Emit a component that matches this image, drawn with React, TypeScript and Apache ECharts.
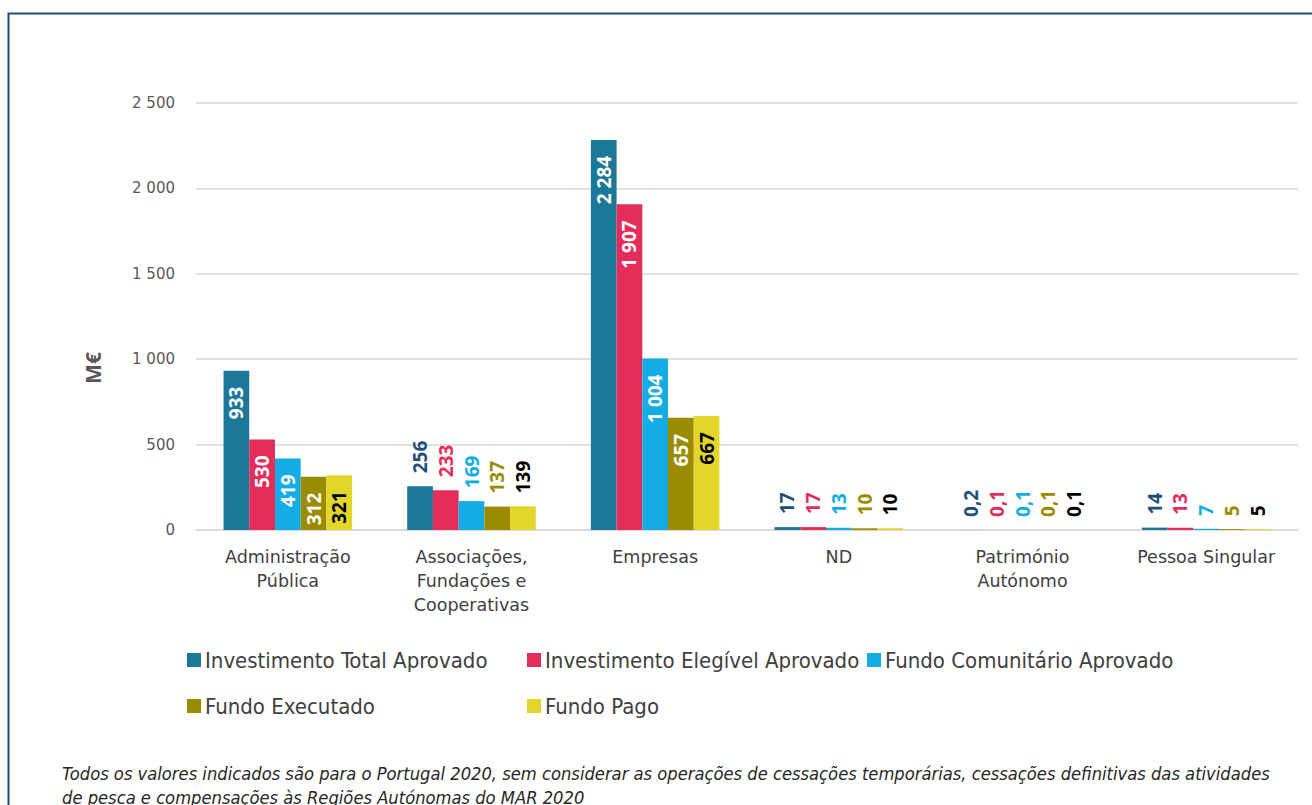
import React, { useEffect, useRef } from "react";
import * as echarts from "echarts";

const categories = [
  "Administração\nPública",
  "Associações,\nFundações e\nCooperativas",
  "Empresas",
  "ND",
  "Património\nAutónomo",
  "Pessoa Singular",
];

const seriesNames = [
  "Investimento Total Aprovado",
  "Investimento Elegível Aprovado",
  "Fundo Comunitário Aprovado",
  "Fundo Executado",
  "Fundo Pago",
];

const investimentoTotal = [933, 256, 2284, 17, 0.2, 14];
const investimentoElegivel = [530, 233, 1907, 17, 0.1, 13];
const fundoComunitario = [419, 169, 1004, 13, 0.1, 7];
const fundoExecutado = [312, 137, 657, 10, 0.1, 5];
const fundoPago = [321, 139, 667, 10, 0.1, 5];

const seriesValues = [investimentoTotal, investimentoElegivel, fundoComunitario, fundoExecutado, fundoPago];

const barColors = ["#1B7898", "#E32D5B", "#14ADE3", "#9A8B00", "#E2D62A"];
const outsideLabelColors = ["#1F4E79", "#E32D5B", "#14ADE3", "#9A8B00", "#000000"];
const insideLabelColors = ["#FFFFFF", "#FFFFFF", "#FFFFFF", "#FFFFFF", "#000000"];

const yTicks = [0, 500, 1000, 1500, 2000, 2500];

const footnote =
  "Todos os valores indicados são para o Portugal 2020, sem considerar as operações de cessações temporárias, cessações definitivas das atividades\nde pesca e compensações às Regiões Autónomas do MAR 2020";

function fmt(v: number): string {
  if (v < 1) return String(v).replace(".", ",");
  return String(Math.round(v)).replace(/\B(?=(\d{3})+(?!\d))/g, " ");
}

const legendPos = [
  { left: 187, top: 649 },
  { left: 527, top: 649 },
  { left: 867, top: 649 },
  { left: 187, top: 695 },
  { left: 527, top: 695 },
];

export default function App() {
  const ref = useRef<HTMLDivElement>(null);
  useEffect(() => {
    if (!ref.current) return;
    const chart = echarts.init(ref.current, undefined, { renderer: "svg" });
    const labelFont = "'Open Sans', 'DejaVu Sans', sans-serif";
    const series = seriesNames.map((name, i) => ({
      name,
      type: "bar",
      barGap: "0%",
      barCategoryGap: "30%",
      itemStyle: { color: barColors[i] },
      data: seriesValues[i].map((v) => ({
        value: v,
        label:
          v > 300
            ? {
                show: true,
                position: "insideTop",
                distance: 16,
                rotate: 90,
                align: "right",
                verticalAlign: "middle",
                color: insideLabelColors[i],
                fontFamily: labelFont,
                fontWeight: "bold",
                fontSize: 19,
                formatter: (p: any) => fmt(p.value),
              }
            : {
                show: true,
                position: "top",
                distance: 13,
                rotate: 90,
                align: "left",
                verticalAlign: "middle",
                color: outsideLabelColors[i],
                fontFamily: labelFont,
                fontWeight: "bold",
                fontSize: 19,
                formatter: (p: any) => fmt(p.value),
              },
      })),
    }));
    const legends = seriesNames.map((name, i) => ({
      data: [name],
      left: legendPos[i].left,
      top: legendPos[i].top,
      padding: 0,
      icon: "rect",
      itemWidth: 14,
      itemHeight: 14,
      selectedMode: false,
      textStyle: {
        fontFamily: "'DejaVu Sans Condensed', 'DejaVu Sans', sans-serif",
        fontSize: 22,
        lineHeight: 22,
        color: "#404040",
        padding: [0, 0, 0, -1],
      },
    }));
    chart.setOption({
      animation: false,
      backgroundColor: "#FFFFFF",
      grid: { left: 196, right: 14, top: 103, bottom: 275, containLabel: false },
      legend: legends,
      xAxis: {
        type: "category",
        data: categories,
        axisLine: { show: true, lineStyle: { color: "#D9D9D9", width: 1.5 } },
        axisTick: { show: false },
        axisLabel: {
          interval: 0,
          margin: 15,
          color: "#404040",
          fontSize: 17.5,
          lineHeight: 24,
          fontFamily: "'DejaVu Sans', sans-serif",
        },
      },
      yAxis: {
        type: "value",
        min: yTicks[0],
        max: yTicks[yTicks.length - 1],
        interval: 500,
        axisLine: { show: false },
        axisTick: { show: false },
        splitLine: { lineStyle: { color: "#D9D9D9", width: 1.5 } },
        axisLabel: {
          margin: 21,
          color: "#595959",
          fontSize: 15,
          fontFamily: "'DejaVu Sans', sans-serif",
          formatter: (v: number) => fmt(v),
        },
      },
      graphic: [
        {
          type: "rect",
          shape: { x: 8.5, y: 13.5, width: 1330, height: 830 },
          style: { fill: "none", stroke: "#1F4E79", lineWidth: 2 },
          silent: true,
        },
        {
          type: "text",
          x: 93,
          y: 368,
          rotation: Math.PI / 2,
          style: {
            text: "M€",
            fontFamily: "'Open Sans', 'DejaVu Sans', sans-serif",
            fontWeight: "bold",
            fontSize: 21,
            fill: "#595959",
            align: "center",
            verticalAlign: "middle",
          },
        },
        {
          type: "text",
          x: 62,
          y: 761,
          style: {
            text: footnote,
            fontFamily: "'DejaVu Sans Condensed', 'DejaVu Sans', sans-serif",
            fontStyle: "italic",
            fontSize: 18.2,
            lineHeight: 24,
            fill: "#262626",
            align: "left",
            verticalAlign: "top",
          },
        },
      ],
      series,
    });
    return () => chart.dispose();
  }, []);
  return (
    <div
      ref={ref}
      style={{ position: "fixed", left: 0, top: 0, width: 1312, height: 805 }}
    />
  );
}
